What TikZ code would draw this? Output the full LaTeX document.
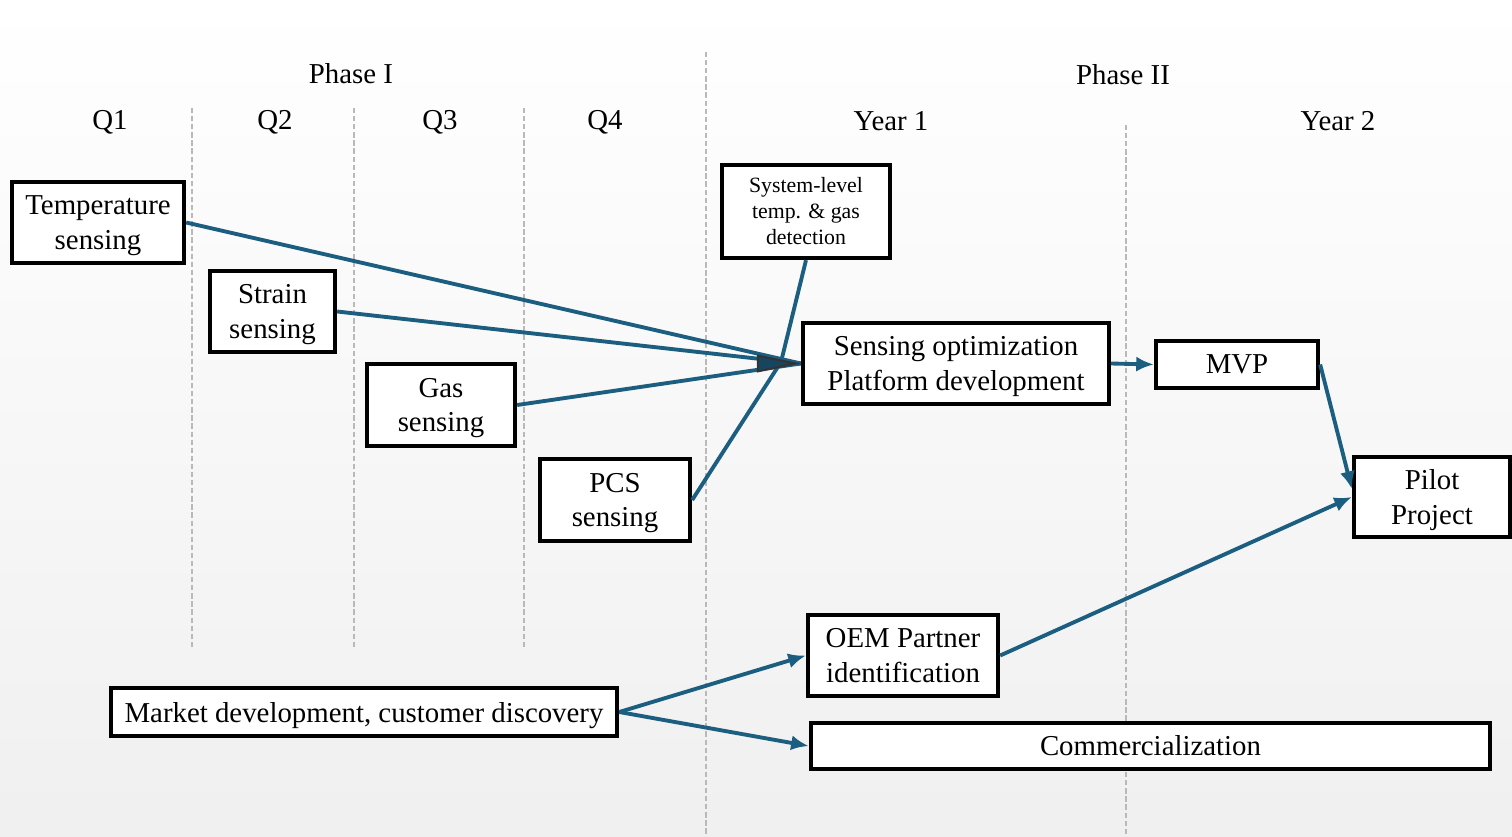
\documentclass[tikz,border=0pt]{standalone}
\usepackage{fontspec}
\setmainfont{Liberation Serif}
\usetikzlibrary{arrows.meta}

\definecolor{flowblue}{RGB}{27,94,128}
\definecolor{tipblue}{RGB}{22,70,95}

\tikzset{
	box/.style={draw=black, line width=1.2pt, fill=white, inner sep=0pt, align=center, font=\fontsize{8.2pt}{9.8pt}\selectfont},
	lowbox/.style={box, text depth=0pt},
	smallbox/.style={box, font=\fontsize{6.2pt}{7.4pt}\selectfont},
	hdr/.style={inner sep=0pt, font=\fontsize{8.2pt}{9.8pt}\selectfont},
	flow/.style={draw=flowblue, line width=1.1pt},
	flowarrow/.style={flow, -{Latex[length=5pt,width=4.3pt]}},
	divider/.style={gray!55, line width=0.4pt, dash pattern=on 1.5pt off 0.8pt}
}

\begin{document}
\begin{tikzpicture}[x=0.01cm, y=-0.01cm]
	% background
	\useasboundingbox (0,0) rectangle (1512,836);
	\shade[top color=white, bottom color=gray!12] (0,0) rectangle (1512,836);

	% time grid
	\draw[divider] (192,108) -- (192,648);
	\draw[divider] (354,108) -- (354,648);
	\draw[divider] (524,108) -- (524,648);
	\draw[divider] (706,52) -- (706,836);
	\draw[divider] (1126,125) -- (1126,836);

	\node[hdr] (ph1) at (351,74) {Phase I};
	\node[hdr] (ph2) at (1123,75) {Phase II};
	\node[hdr] (q1) at (110,122.5) {Q1};
	\node[hdr] (q2) at (275,122.5) {Q2};
	\node[hdr] (q3) at (440,122.5) {Q3};
	\node[hdr] (q4) at (605,122.5) {Q4};
	\node[hdr] (y1) at (891,121) {Year 1};
	\node[hdr] (y2) at (1338,121) {Year 2};

	% boxes
	\node[lowbox, minimum width=1.72cm, minimum height=0.81cm] (temp) at (98,222.5) {Temperature\\sensing};
	\node[lowbox, minimum width=1.25cm, minimum height=0.81cm] (strain) at (272.5,311.5) {Strain\\sensing};
	\node[lowbox, minimum width=1.48cm, minimum height=0.82cm] (gas) at (441,405) {Gas\\sensing};
	\node[lowbox, minimum width=1.50cm, minimum height=0.82cm] (pcs) at (615,500) {PCS\\sensing};
	\node[smallbox, minimum width=1.68cm, minimum height=0.93cm] (sys) at (806,211.5) {System-level\\temp. \& gas\\detection};
	\node[lowbox, minimum width=3.06cm, minimum height=0.81cm] (sens) at (956,363.5) {Sensing optimization\\Platform development};
	\node[box, minimum width=1.62cm, minimum height=0.47cm] (mvp) at (1237,364.5) {MVP};
	\node[lowbox, minimum width=1.56cm, minimum height=0.80cm] (pilot) at (1432,497) {Pilot\\Project};
	\node[lowbox, minimum width=1.90cm, minimum height=0.81cm] (oem) at (903,655.5) {OEM Partner\\identification};
	\node[lowbox, minimum width=5.06cm, minimum height=0.48cm] (market) at (364,712) {Market development, customer discovery};
	\node[box, minimum width=6.79cm, minimum height=0.46cm] (comm) at (1150.5,746) {Commercialization};

	% connectors
	\coordinate (J) at (781,362);
	\coordinate (tipbase) at (758,363.5);
	\draw[flow] (temp.east) -- (sens.west);
	\draw[flow] (strain.east) -- (sens.west);
	\draw[flow] (gas.east) -- (sens.west);
	\draw[flow] (sys.south) -- (J) -- (pcs.east);
	\draw[draw=black!80, line width=0.6pt, -{Triangle[length=12.5pt,width=5pt,fill=tipblue]}] (tipbase) -- (sens.west);

	\draw[flowarrow] (sens.east) -- (mvp.west);
	\draw[flowarrow] (mvp.east) -- ([yshift=2.3pt]pilot.west);
	\draw[flowarrow] (oem.east) -- (pilot.west);
	\draw[flowarrow] (market.east) -- (oem.west);
	\draw[flowarrow] (market.east) -- (comm.west);
\end{tikzpicture}
\end{document}
